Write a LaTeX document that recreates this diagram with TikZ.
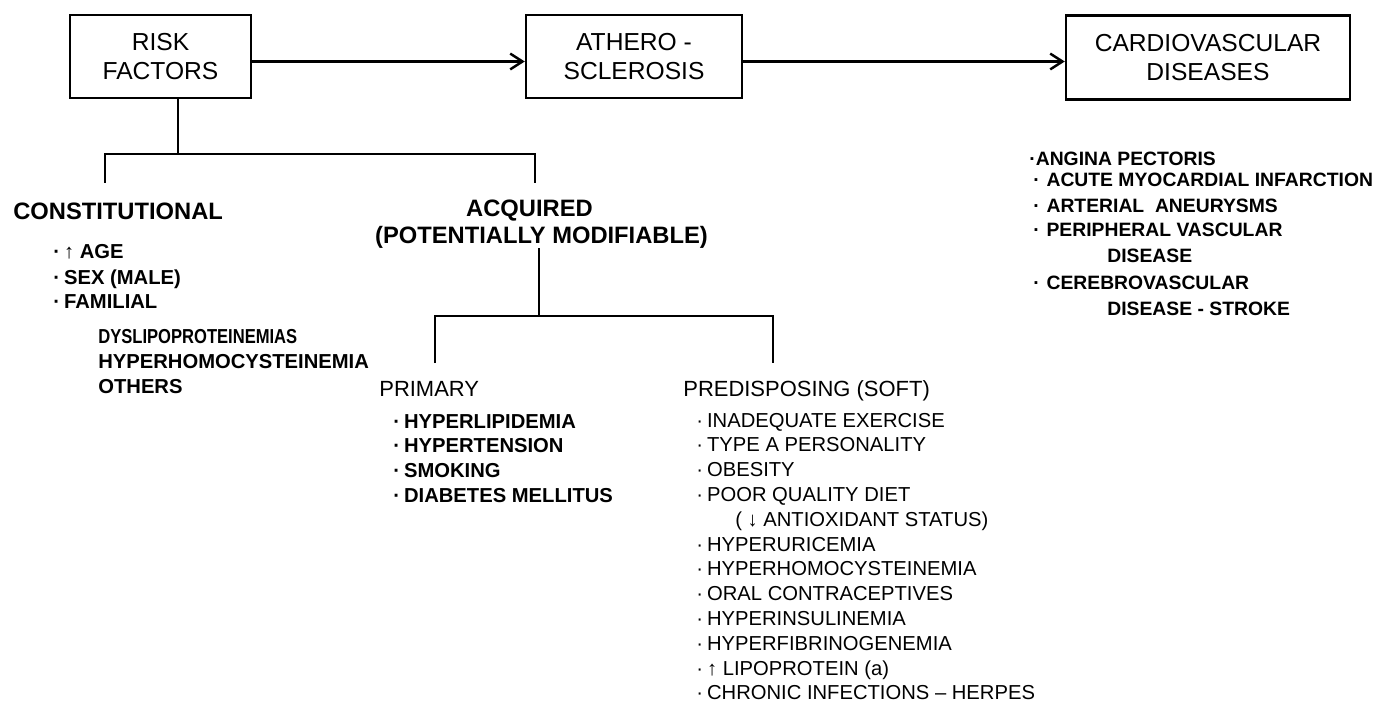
\documentclass[tikz,border=0pt]{standalone}
\usepackage{fontspec}
\setmainfont{Liberation Sans}
\usepackage{graphicx}
\usetikzlibrary{arrows.meta}

\newcommand{\dotit}{·\hspace{0.2em}}

\begin{document}
\begin{tikzpicture}[
    box/.style={draw, line width=1.4pt, align=center, inner sep=0pt, font=\fontsize{14}{17}\selectfont},
    head/.style={inner sep=0pt, font=\bfseries\fontsize{13.5}{16}\selectfont},
    sub/.style={anchor=base west, inner sep=0pt, font=\fontsize{12.5}{15}\selectfont},
    item/.style={anchor=base west, inner sep=0pt, font=\fontsize{11.5}{14}\selectfont},
    bitem/.style={item, font=\bfseries\fontsize{11.5}{14}\selectfont},
    cvitem/.style={item, font=\bfseries\fontsize{11}{13}\selectfont},
    link/.style={line width=1.4pt},
    flow/.style={line width=1.4pt, -{Straight Barb[length=7pt,width=9pt]}}
]
\useasboundingbox (0,0) rectangle (27.68,-14.12);

% top row
\node[box, minimum width=3.62cm, minimum height=1.66cm] (risk) at (3.21,-1.13) {RISK\\FACTORS};
\node[box, minimum width=4.32cm, minimum height=1.66cm] (athero) at (12.68,-1.13) {ATHERO -\\SCLEROSIS};
\node[box, minimum width=5.68cm, minimum height=1.68cm] (cvd) at (24.16,-1.15) {CARDIOVASCULAR\\DISEASES};
\draw[flow] ([yshift=-0.1cm]risk.east) -- ([yshift=-0.1cm]athero.west);
\draw[flow] ([yshift=-0.1cm]athero.east) -- ([yshift=-0.1cm]athero.east -| cvd.west);

% first split
\coordinate (j1) at (3.56,-3.08);
\coordinate (c1) at (2.10,-3.66);
\coordinate (a1) at (10.70,-3.66);
\draw[link] (risk.south -| j1) -- (j1);
\draw[link] (c1) |- (j1) -| (a1);

\node[head, anchor=base west] (const) at (0.26,-4.40) {CONSTITUTIONAL};
\node[head, anchor=base] (acq) at (10.59,-4.34) {ACQUIRED};
\node[head, anchor=base] (potmod) at (10.83,-4.86) {(POTENTIALLY MODIFIABLE)};

% constitutional
\node[bitem] (age) at (1.06,-5.16) {\dotit{}↑ AGE};
\node[bitem] (sex) at (1.06,-5.68) {\dotit{}SEX (MALE)};
\node[bitem] (fam) at (1.06,-6.18) {\dotit{}FAMILIAL};
\node[bitem] (dys) at (1.96,-6.86) {\scalebox{0.82}[1]{DYSLIPOPROTEINEMIAS}};
\node[bitem] (hhc) at (1.96,-7.36) {HYPERHOMOCYSTEINEMIA};
\node[bitem] (oth) at (1.96,-7.86) {OTHERS};

% second split
\coordinate (j2) at (10.78,-6.32);
\coordinate (p1) at (8.70,-7.26);
\coordinate (p2) at (15.46,-7.26);
\draw[link] (potmod.south -| j2) -- (j2);
\draw[link] (p1) |- (j2) -| (p2);

\node[sub] (prim) at (7.58,-7.92) {PRIMARY};
\node[sub] (pred) at (13.66,-7.92) {PREDISPOSING (SOFT)};

% primary
\node[bitem] (lip) at (7.86,-8.56) {\dotit{}HYPERLIPIDEMIA};
\node[bitem] (hyp) at (7.86,-9.04) {\dotit{}HYPERTENSION};
\node[bitem] (smo) at (7.86,-9.54) {\dotit{}SMOKING};
\node[bitem] (dia) at (7.86,-10.04) {\dotit{}DIABETES MELLITUS};

% predisposing
\node[item] (exe) at (13.92,-8.54) {\dotit{}INADEQUATE EXERCISE};
\node[item] (typ) at (13.92,-9.036) {\dotit{}TYPE A PERSONALITY};
\node[item] (obe) at (13.92,-9.532) {\dotit{}OBESITY};
\node[item] (die) at (13.92,-10.028) {\dotit{}POOR QUALITY DIET};
\node[item] (aox) at (14.70,-10.524) {( ↓ ANTIOXIDANT STATUS)};
\node[item] (uri) at (13.92,-11.02) {\dotit{}HYPERURICEMIA};
\node[item] (hom) at (13.92,-11.516) {\dotit{}HYPERHOMOCYSTEINEMIA};
\node[item] (ora) at (13.92,-12.012) {\dotit{}ORAL CONTRACEPTIVES};
\node[item] (ins) at (13.92,-12.508) {\dotit{}HYPERINSULINEMIA};
\node[item] (fib) at (13.92,-13.004) {\dotit{}HYPERFIBRINOGENEMIA};
\node[item] (lpa) at (13.92,-13.50) {\dotit{}↑ LIPOPROTEIN (a)};
\node[item] (inf) at (13.92,-13.996) {\dotit{}CHRONIC INFECTIONS – HERPES};

% diseases
\node[cvitem] (ang) at (20.58,-3.32) {·ANGINA PECTORIS};
\node[cvitem] (ami) at (20.66,-3.74) {·\hspace{0.35em}ACUTE MYOCARDIAL INFARCTION};
\node[cvitem] (ane) at (20.66,-4.24) {·\hspace{0.35em}ARTERIAL\ \ ANEURYSMS};
\node[cvitem] (pvd) at (20.66,-4.74) {·\hspace{0.35em}PERIPHERAL VASCULAR};
\node[cvitem] (pvd2) at (22.14,-5.26) {DISEASE};
\node[cvitem] (cer) at (20.66,-5.78) {·\hspace{0.35em}CEREBROVASCULAR};
\node[cvitem] (cer2) at (22.14,-6.30) {DISEASE - STROKE};
\end{tikzpicture}
\end{document}
